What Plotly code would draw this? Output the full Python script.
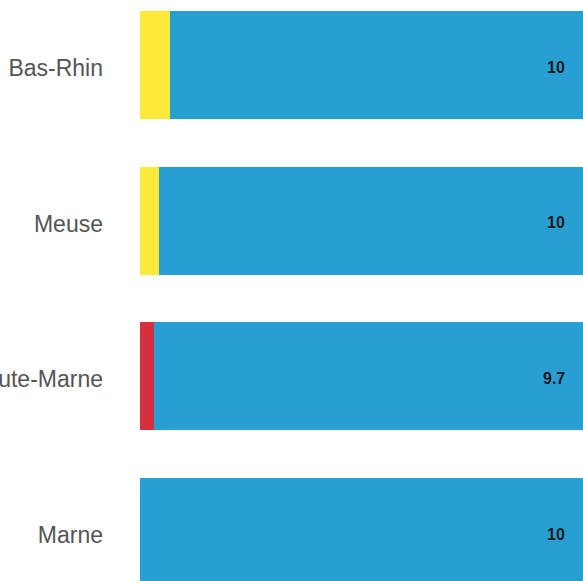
import plotly.graph_objects as go

# Data (top to bottom in the picture: Bas-Rhin, Meuse, Haute-Marne, Marne)
departements = ["Marne", "Haute-Marne", "Meuse", "Bas-Rhin"]
yellow_vals = [0.0, 0.0, 0.4, 0.65]
red_vals = [0.0, 0.3, 0.0, 0.0]
blue_vals = [10.0, 9.7, 10.0, 10.0]
blue_labels = [f"{v:g}" for v in blue_vals]

YELLOW = "#FDE93A"
RED = "#D4303F"
BLUE = "#279FD2"

fig = go.Figure()
fig.add_trace(go.Bar(y=departements, x=yellow_vals, orientation="h",
                     marker=dict(color=YELLOW, line=dict(width=0)), hoverinfo="skip"))
fig.add_trace(go.Bar(y=departements, x=red_vals, orientation="h",
                     marker=dict(color=RED, line=dict(width=0)), hoverinfo="skip"))
fig.add_trace(go.Bar(y=departements, x=blue_vals, orientation="h",
                     marker=dict(color=BLUE, line=dict(width=0)), hoverinfo="skip"))

for dep, lab in zip(departements, blue_labels):
    fig.add_annotation(x=0.964, xref="paper", y=dep, yref="y", text=lab,
                       showarrow=False, xanchor="right", yanchor="middle", yshift=-2,
                       font=dict(family="Liberation Sans, Arial", size=16, color="#1a1a1a",
                                 weight="bold"))

fig.update_layout(
    width=583, height=581,
    margin=dict(l=140, r=0, t=0, b=0, autoexpand=False),
    barmode="stack", bargap=0.306,
    showlegend=False,
    paper_bgcolor="white", plot_bgcolor="white",
    xaxis=dict(range=[0, 9.55], visible=False, showgrid=False, zeroline=False, automargin=False),
    yaxis=dict(range=[-0.3148, 3.4176], showgrid=False, zeroline=False, showline=False,
               ticks="", ticklabelstandoff=36, ticklabelshift=3, automargin=False,
               tickfont=dict(family="Liberation Sans, Arial", size=23, color="#555555")),
)

fig.write_html("out.html", config={"displayModeBar": False},
               post_script="document.body.style.margin='0';document.body.style.overflow='hidden';")
